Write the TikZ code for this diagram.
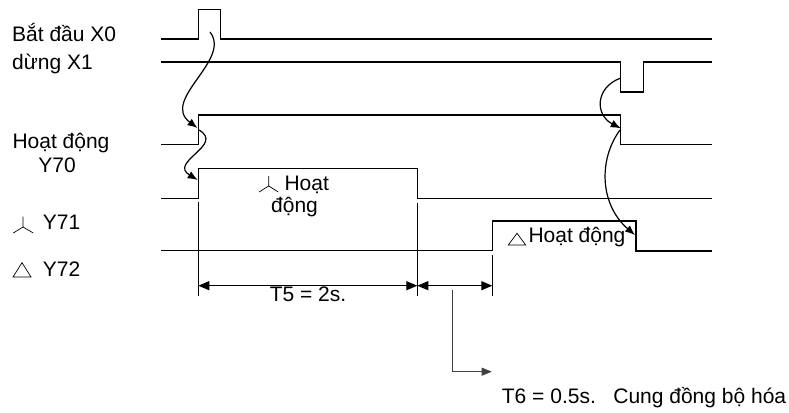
\documentclass[tikz,border=0pt]{standalone}
\usepackage{fontspec}
\setmainfont{Liberation Sans}
\usetikzlibrary{arrows.meta}
\begin{document}
\begin{tikzpicture}[x=1pt,y=-1pt,
  font=\fontsize{21}{25}\selectfont,
  wave/.style={line width=1.2pt, line join=miter},
  wavebold/.style={line width=2pt, line join=miter},
  dimline/.style={line width=0.9pt},
  dimarrow/.style={line width=1.2pt, {Triangle[length=11pt,width=9pt]}-{Triangle[length=11pt,width=9pt]}},
  leader/.style={line width=0.8pt, draw=black!75, -{Triangle[length=10pt,width=8pt]}},
  curvearrow/.style={line width=1.2pt, -{Latex[length=10pt,width=8pt]}},
  sym/.style={line width=0.7pt},
  lbl/.style={inner sep=0pt}]
\useasboundingbox (0,0) rectangle (789,412);

% waveforms
\draw[wave] (161,39) -- (198.3,39) -- (198.3,9.3) -- (220.7,9.3) -- (220.7,39) -- (711.7,39);
\draw[wave] (161,62) -- (620.7,62) -- (620.7,92) -- (643.3,92) -- (643.3,62) -- (711.7,62);
\draw[wave] (161,144.3) -- (198.3,144.3) -- (198.3,115) -- (620.7,115) -- (620.7,144.3) -- (711.7,144.3);
\draw[wave] (161,198.3) -- (198.3,198.3) -- (198.3,168.3) -- (417.3,168.3) -- (417.3,198.3) -- (711.7,198.3);
\draw[wave] (161,250.7) -- (492.3,250.7) -- (492.3,221);
\draw[wavebold] (492.3,221) -- (635.7,221) -- (635.7,250.7) -- (711.7,250.7);

% vertical extension lines
\draw[dimline] (198.3,202) -- (198.3,296);
\draw[dimline] (417.3,202.7) -- (417.3,296);
\draw[dimline] (492.3,255) -- (492.3,296);

% dimension arrows
\coordinate (d1) at (198.3,285.7);
\coordinate (d2) at (417.3,285.7);
\coordinate (d3) at (492.3,285.7);
\draw[dimarrow] (d1) -- (d2);
\draw[dimarrow] (d2) -- (d3);
\node[lbl, anchor=base] (t5) at (308,301.7) {T5 = 2s.};

% leader
\coordinate (L0) at (452.3,290);
\coordinate (L1) at (452.3,371.7);
\coordinate (L2) at (491.7,371.7);
\draw[leader] (L0) -- (L1) -- (L2);
\node[lbl, anchor=base west] (t6) at (501.7,403) {T6 = 0.5s.\ \ \ Cung đồng bộ hóa};

% curved arrows
\coordinate (c1s) at (210,32);
\coordinate (c1e) at (197.5,128);
\coordinate (c2s) at (199,130);
\coordinate (c2e) at (197.7,180);
\coordinate (c3s) at (620,78.3);
\coordinate (c3e) at (620.7,128.3);
\coordinate (c4s) at (620,130);
\coordinate (c4e) at (635,235);
\draw[curvearrow] (c1s) .. controls (232,60) and (160,100) .. (c1e);
\draw[curvearrow] (c2s) .. controls (225,145) and (168,162) .. (c2e);
\draw[curvearrow] (c3s) .. controls (595,88) and (595,115) .. (c3e);
\draw[curvearrow] (c4s) .. controls (598,160) and (600,205) .. (c4e);

% left labels
\node[lbl, anchor=base west] (lx0) at (12,41.7) {Bắt đầu X0};
\node[lbl, anchor=base west] (lx1) at (12,70) {dừng X1};
\node[lbl, anchor=base] (ly70a) at (61,148) {Hoạt động};
\node[lbl, anchor=base] (ly70b) at (57,172.7) {Y70};
\node[lbl, anchor=base west] (ly71) at (42.7,229) {Y71};
\node[lbl, anchor=base west] (ly72) at (42.7,276.7) {Y72};

% symbols
\draw[sym] (23,216.7) -- (23,227) -- (13.3,233);
\draw[sym] (23,227) -- (33.3,233);
\draw[sym] (22,262.7) -- (31,277) -- (13,277) -- cycle;
\draw[sym] (268.7,176) -- (268.7,186) -- (259,192);
\draw[sym] (268.7,186) -- (278.3,192);
\draw[sym] (517,233.3) -- (525.7,245) -- (508.3,245) -- cycle;

% inner labels
\node[lbl, anchor=base west] (in1) at (284.3,190) {Hoạt};
\node[lbl, anchor=base west] (in2) at (271,212.5) {động};
\node[lbl, anchor=base west] (in3) at (528.3,242.3) {Hoạt động};
\end{tikzpicture}
\end{document}
